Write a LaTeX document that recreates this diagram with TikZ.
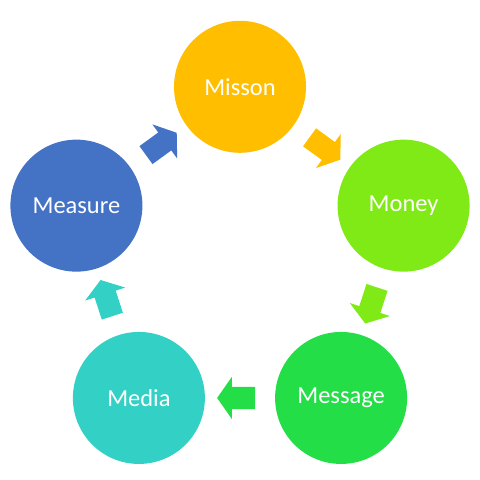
\documentclass[tikz,border=0pt]{standalone}
\usepackage{fontspec}
\setmainfont{Carlito}
\usepackage{xcolor}
\usepackage{tikz}
\usetikzlibrary{shapes.arrows,calc}

\definecolor{misC}{RGB}{255,190,0}
\definecolor{monC}{RGB}{128,234,22}
\definecolor{msgC}{RGB}{36,222,72}
\definecolor{medC}{RGB}{51,209,197}
\definecolor{meaC}{RGB}{68,114,196}

\begin{document}
\begin{tikzpicture}[
  stage/.style={circle, minimum size=3.3cm, inner sep=0pt, fill=#1,
    text=white, font=\fontsize{17.4}{20}\selectfont},
  flow/.style={single arrow, fill=#1, inner xsep=0pt, inner ysep=0.27cm,
    minimum height=0.95cm, single arrow head extend=0.25cm,
    single arrow tip angle=110}
]
  \def\R{4.3}
  \useasboundingbox (0,0) rectangle (12,12);
  \coordinate (mid) at (6,5.53);

  % Five stages on a pentagon.
  \foreach \name/\txt/\ang in {mis/Misson/90,mon/Money/18,msg/Message/-54,
                              med/Media/-126,mea/Measure/162}{
    \node[stage=\name C] (\name) at ($(mid)+(\ang:\R)$) {\txt};
  }

  % Block arrows halfway between neighbours.
  \foreach \a/\b/\ang in {mis/mon/-36,mon/msg/-108,msg/med/180,
                          med/mea/108,mea/mis/36}{
    \node[flow=\a C, rotate=\ang] (\a-\b) at ($(\a)!0.5!(\b)$) {};
  }
\end{tikzpicture}
\end{document}
